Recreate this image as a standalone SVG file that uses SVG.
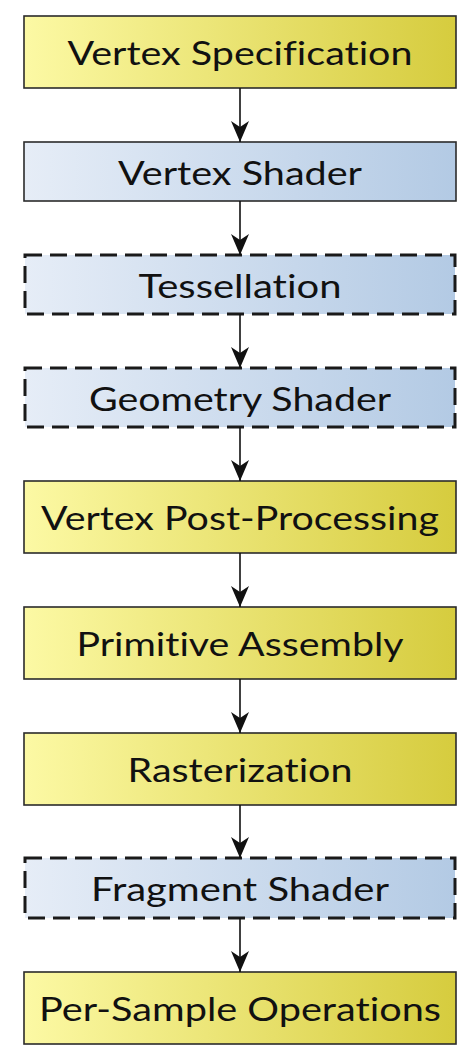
<svg xmlns="http://www.w3.org/2000/svg" width="474" height="1062" viewBox="0 0 474 1062">
  <defs>
    <linearGradient id="gy" x1="0" y1="0" x2="1" y2="0">
      <stop offset="0" stop-color="#fcf9a4"/>
      <stop offset="1" stop-color="#d6cc3e"/>
    </linearGradient>
    <linearGradient id="gb" x1="0" y1="0" x2="1" y2="0">
      <stop offset="0" stop-color="#e6edf7"/>
      <stop offset="1" stop-color="#b3cae4"/>
    </linearGradient>
    <marker id="arr" markerUnits="userSpaceOnUse" markerWidth="21" markerHeight="18" viewBox="0 0 21 18" refX="21" refY="9" orient="auto">
      <path d="M0,0 L21,9 L0,18 L6,9 Z" fill="#111"/>
    </marker>
  </defs>
  <style>
    rect.y { fill: url(#gy); stroke: #2b2b2b; stroke-width: 1.6; }
    rect.b { fill: url(#gb); stroke: #2b2b2b; stroke-width: 1.6; }
    rect.d { fill: url(#gb); stroke: #1a1a1a; stroke-width: 3; stroke-dasharray: 17 8; }
    text { font-family: Lato, "Open Sans", "Liberation Sans", sans-serif; font-size: 33px; fill: #111; text-anchor: middle; font-variant-ligatures: none; }
    line { stroke: #111; stroke-width: 1.6; marker-end: url(#arr); }
  </style>
  <g id="n1"><rect class="y" x="24" y="16" width="432" height="72"/><text x="240" y="65" textLength="345" lengthAdjust="spacingAndGlyphs">Vertex Specification</text></g>
  <g id="n2"><rect class="b" x="24" y="142" width="432" height="59"/><text x="240" y="184.5" textLength="244" lengthAdjust="spacingAndGlyphs">Vertex Shader</text></g>
  <g id="n3"><rect class="d" x="25" y="255" width="430" height="59"/><text x="240" y="297.5" textLength="203" lengthAdjust="spacingAndGlyphs">Tessellation</text></g>
  <g id="n4"><rect class="d" x="25" y="368" width="430" height="59"/><text x="240" y="410.5" textLength="302" lengthAdjust="spacingAndGlyphs">Geometry Shader</text></g>
  <g id="n5"><rect class="y" x="24" y="481" width="432" height="72"/><text x="240" y="530" textLength="398" lengthAdjust="spacingAndGlyphs">Vertex Post-Processing</text></g>
  <g id="n6"><rect class="y" x="24" y="607" width="432" height="72"/><text x="240" y="656" textLength="327" lengthAdjust="spacingAndGlyphs">Primitive Assembly</text></g>
  <g id="n7"><rect class="y" x="24" y="733" width="432" height="72"/><text x="240" y="782" textLength="225" lengthAdjust="spacingAndGlyphs">Rasterization</text></g>
  <g id="n8"><rect class="d" x="25" y="858" width="430" height="60"/><text x="240" y="901" textLength="298" lengthAdjust="spacingAndGlyphs">Fragment Shader</text></g>
  <g id="n9"><rect class="y" x="24" y="972" width="432" height="72"/><text x="240" y="1021" textLength="402" lengthAdjust="spacingAndGlyphs">Per-Sample Operations</text></g>
  <g id="connectors">
    <line x1="240" y1="88" x2="240" y2="142"/>
    <line x1="240" y1="201" x2="240" y2="255"/>
    <line x1="240" y1="314" x2="240" y2="368"/>
    <line x1="240" y1="427" x2="240" y2="481"/>
    <line x1="240" y1="553" x2="240" y2="607"/>
    <line x1="240" y1="679" x2="240" y2="733"/>
    <line x1="240" y1="805" x2="240" y2="858"/>
    <line x1="240" y1="918" x2="240" y2="972"/>
  </g>
</svg>
